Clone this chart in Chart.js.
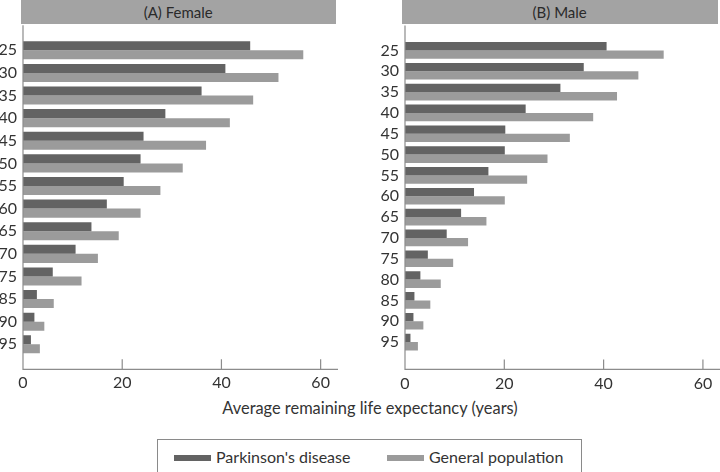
<!DOCTYPE html>
<html>
<head>
<meta charset="utf-8">
<script src="https://cdn.jsdelivr.net/npm/chart.js@4.4.1/dist/chart.umd.min.js"></script>
<style>
  body { margin: 0; width: 720px; height: 472px; overflow: hidden; background: #fff; position: relative; font-family: Lato, sans-serif; color: #333; }
  .head { position: absolute; top: 0; height: 24px; background: #a3a3a3; text-align: center; line-height: 25px; font-size: 15px; color: #2a2a2a; }
  .panel { position: absolute; }
  #xtitle { position: absolute; left: 0; width: 740px; top: 398px; text-align: center; font-size: 16.4px; color: #333; }
  #legend { position: absolute; left: 157px; top: 439px; width: 425px; height: 60px; border: 1px solid #8a8a8a; box-sizing: border-box; }
  .item { position: absolute; top: 7px; font-size: 16px; color: #333; white-space: nowrap; }
  .sw { display: inline-block; width: 37px; height: 6px; margin-right: 5px; vertical-align: middle; position: relative; top: -1px; }
</style>
</head>
<body>
<div class="head" style="left:20.7px;width:315px">(A) Female</div>
<div class="head" style="left:401.7px;width:316px">(B) Male</div>
<div class="panel" id="fbox" style="left:-17px;top:22.7px;width:355px;height:372.6px"><canvas id="female"></canvas></div>
<div class="panel" id="mbox" style="left:364.7px;top:23.6px;width:355.3px;height:368.5px"><canvas id="male"></canvas></div>
<div id="xtitle">Average remaining life expectancy (years)</div>
<div id="legend"></div>

<script>
// age groups (female table has no 80 row)
const femaleAges = ['25', '30', '35', '40', '45', '50', '55', '60', '65', '70', '75', '85', '90', '95'];
const femalePD   = [45.8, 40.8, 36.0, 28.7, 24.3, 23.7, 20.3, 16.9, 13.8, 10.6, 6.0, 2.8, 2.3, 1.6];
const femaleGen  = [56.5, 51.5, 46.4, 41.7, 36.9, 32.2, 27.7, 23.7, 19.3, 15.1, 11.8, 6.2, 4.3, 3.4];

const maleAges = ['25', '30', '35', '40', '45', '50', '55', '60', '65', '70', '75', '80', '85', '90', '95'];
const malePD   = [40.6, 36.0, 31.3, 24.3, 20.2, 20.1, 16.8, 13.9, 11.3, 8.4, 4.6, 3.1, 1.9, 1.7, 1.1];
const maleGen  = [52.1, 47.0, 42.7, 37.9, 33.2, 28.7, 24.6, 20.1, 16.4, 12.7, 9.7, 7.2, 5.1, 3.7, 2.6];

const seriesNames = ["Parkinson's disease", 'General population'];
const seriesColors = ['#636363', '#9b9b9b'];
const xMax = 63.5;

// axis lines run a bit past the category band, ticks point inwards
const axisLines = {
    id: 'axisLines',
    afterDraw(chart, args, opts) {
        const { ctx, chartArea: a, scales: { x } } = chart;
        const base = a.bottom + opts.below;
        ctx.save();
        ctx.strokeStyle = '#8c8c8c';
        ctx.lineWidth = 1.2;
        ctx.beginPath();
        ctx.moveTo(a.left, a.top - opts.above);
        ctx.lineTo(a.left, base);
        ctx.lineTo(a.right, base);
        x.ticks.forEach(t => {
            if (!t.value) return;
            const px = x.getPixelForValue(t.value);
            ctx.moveTo(px, base);
            ctx.lineTo(px, base - 10);
        });
        ctx.stroke();
        ctx.restore();
    }
};

function makeChart(id, labels, pd, gen, above, below, labelPad) {
    const font = { family: 'Lato', size: 16 };
    return new Chart(document.getElementById(id), {
        type: 'bar',
        data: {
            labels: labels,
            datasets: [
                { label: seriesNames[0], data: pd, backgroundColor: seriesColors[0] },
                { label: seriesNames[1], data: gen, backgroundColor: seriesColors[1] }
            ]
        },
        options: {
            indexAxis: 'y',
            responsive: true, maintainAspectRatio: false,
            animation: false,
            layout: { padding: { top: 16, left: 0, right: 0, bottom: 0 } },
            datasets: { bar: { barPercentage: 1, categoryPercentage: 0.8 } },
            plugins: {
                legend: { display: false },
                tooltip: { enabled: false },
                axisLines: { above: above, below: below }
            },
            scales: {
                x: {
                    min: 0, max: xMax,
                    grid: { display: false, drawTicks: false }, border: { display: false },
                    ticks: { stepSize: 20, includeBounds: false, padding: labelPad, color: '#333', font: font, maxRotation: 0 },
                    afterFit: s => { s.height = 40; s.paddingLeft = 0; s.paddingRight = 0; }
                },
                y: {
                    grid: { display: false, drawTicks: false }, border: { display: false },
                    ticks: { padding: 6, color: '#333', font: font, autoSkip: false },
                    afterFit: s => { s.width = 40; s.paddingTop = 0; s.paddingBottom = 0; }
                }
            }
        },
        plugins: [axisLines]
    });
}

makeChart('female', femaleAges, femalePD, femaleGen, 13.7, 13.7, 18);
makeChart('male', maleAges, malePD, maleGen, 14.6, 16.9, 21.6);

// shared legend under both panels
const legend = document.getElementById('legend');
const itemLeft = [16, 229];
seriesNames.forEach((name, i) => {
    const el = document.createElement('div');
    el.className = 'item';
    el.style.left = itemLeft[i] + 'px';
    el.innerHTML = '<span class="sw" style="background:' + seriesColors[i] + '"></span>' + name;
    legend.appendChild(el);
});
</script>
</body>
</html>
